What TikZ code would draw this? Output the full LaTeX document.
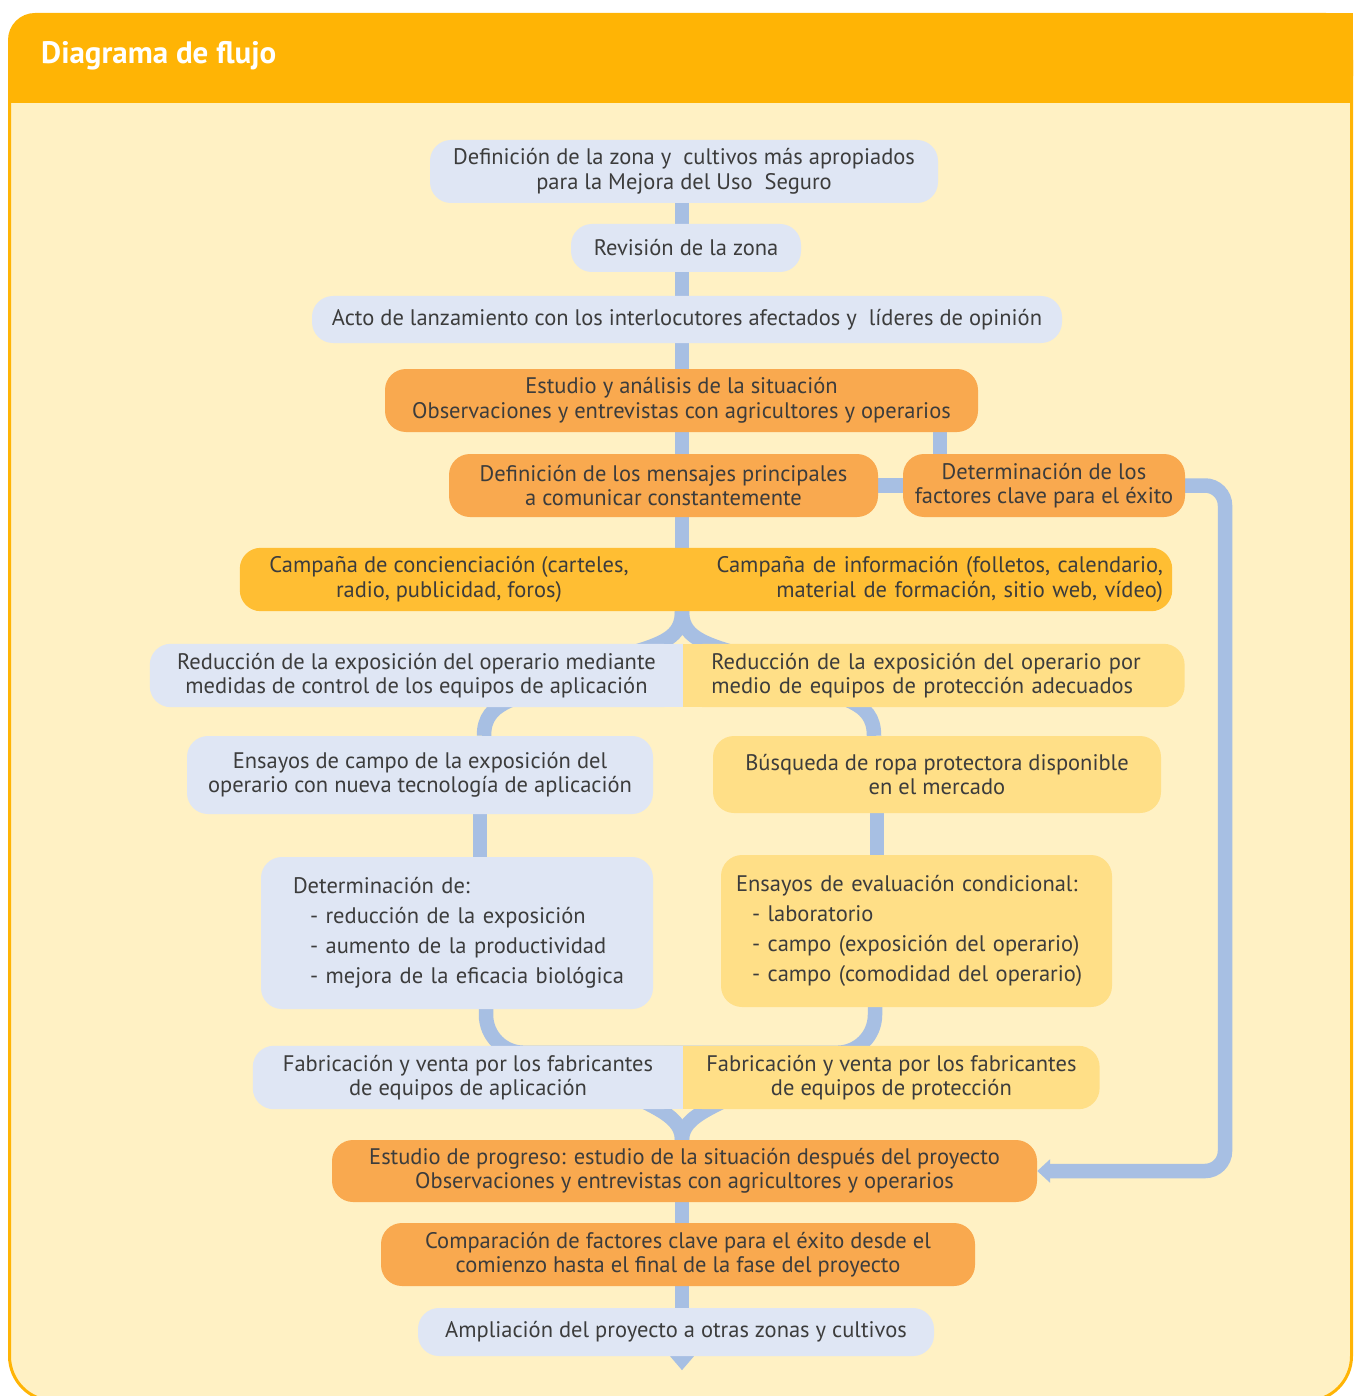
\documentclass[tikz,border=0pt]{standalone}
\usepackage{fontspec}
\setmainfont{PT Sans}
\usepackage{tikz}
\usetikzlibrary{positioning}
\usetikzlibrary{arrows.meta}

\definecolor{headc}{HTML}{FFB405}
\definecolor{cream}{HTML}{FFF1C4}
\definecolor{lblue}{HTML}{DFE6F4}
\definecolor{orng}{HTML}{F9A94F}
\definecolor{campc}{HTML}{FFBE33}
\definecolor{lyel}{HTML}{FFDF87}
\definecolor{linkc}{HTML}{A7BFE3}
\definecolor{txtc}{HTML}{3C3C3C}

\pgfdeclarelayer{frame}
\pgfdeclarelayer{links}
\pgfdeclarelayer{boxes}
\pgfsetlayers{frame,links,boxes,main}

\begin{document}
\begin{tikzpicture}[x=1pt,y=-1pt,
    every node/.style={text=txtc,font=\fontsize{22.5}{24.5}\selectfont,align=center,inner sep=0pt},
    box/.style={rounded corners=21pt,minimum height=63pt},
    bluebox/.style={box,fill=lblue},
    orangebox/.style={box,fill=orng},
    yellowbox/.style={box,fill=lyel},
    halfbox/.style={minimum height=63pt},
    listbox/.style={minimum height=152pt,align=left,font=\fontsize{22.5}{30}\selectfont},
    link/.style={draw=linkc,line width=14.5pt},
    tip/.style={-{Triangle[length=13pt,width=23pt]}}]
    \useasboundingbox (0,0) rectangle (1359,1396);

    % the frame and its header
    \begin{pgfonlayer}{frame}
    \draw[headc,line width=3pt,fill=cream,rounded corners=45pt] (9.5,60) -- (9.5,1401) -- (1351.5,1401) -- (1351.5,60);
    \fill[headc,rounded corners=27pt] (8,13) rectangle (1353,103);
    \fill[headc] (8,60) rectangle (1353,103);
    \fill[headc] (600,13) rectangle (1353,103);
    \end{pgfonlayer}
    \node[anchor=west,text=white,font=\fontsize{31}{34}\selectfont\bfseries] (title) at (41,56) {Diagrama de flujo};

    % the main column
    \node[bluebox,minimum width=508pt] (def) at (684,171.5) {Definición de la zona y~ cultivos más apropiados\\para la Mejora del Uso~ Seguro};
    \node[bluebox,minimum width=230pt,minimum height=48pt] (rev) at (686,248) {Revisión de la zona};
    \node[bluebox,minimum width=750pt,minimum height=47pt] (acto) at (687,319.5) {Acto de lanzamiento con los interlocutores afectados y~ líderes de opinión};
    \node[orangebox,minimum width=593pt] (est) at (681.5,400.5) {Estudio y análisis de la situación\\Observaciones y entrevistas con agricultores y operarios};
    \node[orangebox,minimum width=429pt] (men) at (663.5,485.5) {Definición de los mensajes principales\\a comunicar constantemente};
    \node[orangebox,minimum width=282pt] (fac) at (1044,485.5) {Determinación de los\\factores clave para el éxito};

    % the two campaigns
    \node[halfbox,minimum width=418pt] (camL) at (449,579.5) {Campaña de concienciación (carteles,\\radio, publicidad, foros)};
    \node[halfbox,align=right,text width=466pt,inner xsep=9pt] (camR) at (930,579.5) {Campaña de información (folletos, calendario,\\material de formación, sitio web, vídeo)};

    % left and right branches
    \node[halfbox,minimum width=533pt] (redl) at (416.5,675.5) {Reducción de la exposición del operario mediante\\medidas de control de los equipos de aplicación};
    \node[halfbox,align=left,text width=445pt,inner xsep=28pt,right=0pt of redl] (redr) {Reducción de la exposición del operario por\\medio de equipos de protección adecuados};

    \node[bluebox,minimum width=466pt,minimum height=78pt] (ens) at (420,775) {Ensayos de campo de la exposición del\\operario con nueva tecnología de aplicación};
    \node[yellowbox,minimum width=448pt,minimum height=77pt] (bus) at (937,774.5) {Búsqueda de ropa protectora disponible\\en el mercado};

    \node[bluebox,listbox,text width=370pt,inner xsep=11pt] (det) at (457,933) {\hspace*{21pt}Determinación de:\\
        \hspace*{38pt}- reducción de la exposición\\
        \hspace*{38pt}- aumento de la productividad\\
        \hspace*{38pt}- mejora de la eficacia biológica};
    \node[yellowbox,listbox,text width=371pt,inner xsep=10pt] (eval) at (916.5,931) {\hspace*{5pt}Ensayos de evaluación condicional:\\
        \hspace*{21pt}- laboratorio\\
        \hspace*{21pt}- campo (exposición del operario)\\
        \hspace*{21pt}- campo (comodidad del operario)};

    \node[halfbox,minimum width=430pt] (fabl) at (468,1077.5) {Fabricación y venta por los fabricantes\\de equipos de aplicación};
    \node[halfbox,minimum width=416pt,right=0pt of fabl] (fabr) {Fabricación y venta por los fabricantes\\de equipos de protección};

    % the closing steps
    \node[orangebox,minimum width=705pt,minimum height=62pt] (prog) at (684.5,1171) {Estudio de progreso: estudio de la situación después del proyecto\\Observaciones y entrevistas con agricultores y operarios};
    \node[orangebox,minimum width=594pt] (comp) at (678,1254.5) {Comparación de factores clave para el éxito desde el\\comienzo hasta el final de la fase del proyecto};
    \node[bluebox,minimum width=516pt,minimum height=48pt] (ampl) at (676,1332) {Ampliación del proyecto a otras zonas y cultivos};

    % fills of the split boxes
    \begin{pgfonlayer}{boxes}
    \fill[campc,rounded corners=21pt] (camL.south west) rectangle (camR.north east);
    \fill[lblue,rounded corners=21pt] (redl.south west) rectangle (redl.north east);
    \fill[lblue] (redl.south) rectangle (redl.north east);
    \fill[lyel,rounded corners=21pt] (redr.south west) rectangle (redr.north east);
    \fill[lyel] (redr.south west) rectangle (redr.north);
    \fill[lblue,rounded corners=21pt] (fabl.south west) rectangle (fabl.north east);
    \fill[lblue] (fabl.south) rectangle (fabl.north east);
    \fill[lyel,rounded corners=21pt] (fabr.south west) rectangle (fabr.north east);
    \fill[lyel] (fabr.south west) rectangle (fabr.north);
    \end{pgfonlayer}

    % the connectors
    \coordinate (spine) at (682,0);
    \coordinate (fork) at (940,0);
    \coordinate (rail) at (1225,800);
    \coordinate (tail) at ([yshift=-14pt]ampl.south);
    \begin{pgfonlayer}{links}
    \draw[link] (def.south -| spine) -- (rev.north -| spine);
    \draw[link] (rev.south -| spine) -- (acto.north -| spine);
    \draw[link] (acto.south -| spine) -- (est.north -| spine);
    \draw[link] (est.south -| spine) -- (men.north -| spine);
    \draw[link] (est.south -| fork) -- (fac.north -| fork);
    \draw[link] (men) -- (fac);
    \draw[link] (men.south -| spine) -- (camL.north -| spine);
    \draw[link] (camL.south -| spine) .. controls +(0,22) and +(34,-10) .. ([xshift=-48pt,yshift=-8pt]redl.north east);
    \draw[link] (camL.south -| spine) .. controls +(0,22) and +(-34,-10) .. ([xshift=48pt,yshift=-8pt]redr.north west);
    \draw[link] ([xshift=-173pt,yshift=7pt]redl.south east) .. controls +(-18,8) and +(0,-18) .. ([xshift=64pt]ens.north);
    \draw[link] ([xshift=165pt,yshift=7pt]redr.south west) .. controls +(18,8) and +(0,-18) .. ([xshift=-63pt]bus.north);
    \draw[link] ([xshift=60pt]ens.south) -- ([xshift=23pt]det.north);
    \draw[link] ([xshift=-60pt]bus.south) -- ([xshift=-39.5pt]eval.north);
    \draw[link,rounded corners=38pt] ([xshift=29pt]det.south) |- ([yshift=-7pt]fabl.north -| spine) -| ([xshift=-41.5pt]eval.south);
    \draw[link] (prog.north -| spine) .. controls +(0,-18) and +(20,10) .. ([xshift=-38pt,yshift=7pt]fabl.south east);
    \draw[link] (prog.north -| spine) .. controls +(0,-18) and +(-20,10) .. ([xshift=38pt,yshift=7pt]fabr.south west);
    \draw[link,tip,rounded corners=20pt] (fac.east) -| (rail) |- (prog.east);
    \draw[link] (prog.south -| spine) -- (comp.north -| spine);
    \draw[link] (comp.south -| spine) -- (ampl.north -| spine);
    \draw[link,-{Triangle[length=14pt,width=23pt]}] (ampl.south -| spine) -- (tail -| spine);
    \end{pgfonlayer}
\end{tikzpicture}
\end{document}
